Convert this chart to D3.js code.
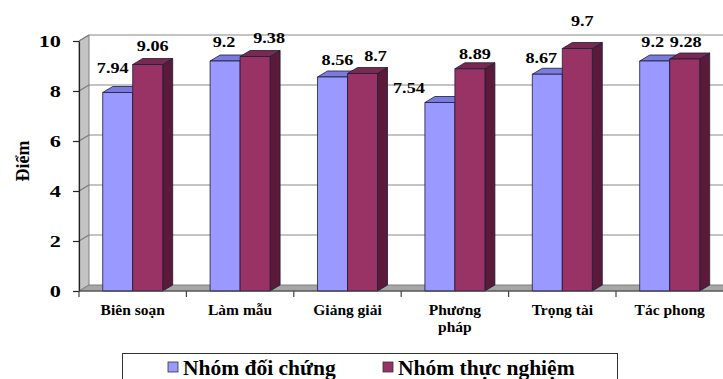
<!DOCTYPE html>
<html>
<head>
<meta charset="utf-8">
<script src="https://cdn.jsdelivr.net/npm/d3@7"></script>
<style>
  html, body { margin: 0; padding: 0; background: #fff; }
  svg { display: block; }
  text { font-family: "Liberation Serif", "Times New Roman", serif; font-weight: bold; fill: #000; }
</style>
</head>
<body>
<svg id="chart" width="723" height="379"></svg>
<script>
// Scores by teaching skill for the two groups
const categories = ["Biên soạn", "Làm mẫu", "Giảng giải", "Phương pháp", "Trọng tài", "Tác phong"];
const controlScores = [7.94, 9.2, 8.56, 7.54, 8.67, 9.2];
const experimentScores = [9.06, 9.38, 8.7, 8.89, 9.7, 9.28];
const seriesNames = ["Nhóm đối chứng", "Nhóm thực nghiệm"];
const yTickValues = [0, 2, 4, 6, 8, 10];
const yTitle = "Điểm";

const seriesValues = [controlScores, experimentScores];
const palette = [
  { front: "#9999ff", top: "#7b7bdc", side: "#6a6ac4" },
  { front: "#993366", top: "#7a2850", side: "#5c1a3a" }
];

// Hand-placed adjustments for value labels that were dragged off their default spot
// [series][category] -> [dx, dy]
const labelNudge = [
  [[-10, -7], [-6, -1], [0, 1], [-36, 3], [-11, 2], [-7, -1]],
  [[0, -1], [9, -1], [8, 0], [0, 3], [0, -10], [-4, 1]]
];

const svg = d3.select("#chart");

// Oblique depth offset of the 3D box
const depthX = 10, depthY = -6;
const left = 79, right = 723.4, plotEdge = 735;

const x = d3.scaleBand().domain(categories).range([left, right]).padding(0);
const y = d3.scaleLinear().domain([0, 10]).range([291, 41]);
const barW = 30;
const inner = d3.scaleBand().domain(d3.range(seriesNames.length)).range([0, barW * seriesNames.length]);

const poly = pts => pts.map(p => p.join(",")).join(" ");

// Walls and floor
const y0 = y(0), yTop = y(10);
svg.append("polygon")
  .attr("points", poly([[left + depthX, yTop + depthY], [plotEdge, yTop + depthY], [plotEdge, y0 + depthY], [left + depthX, y0 + depthY]]))
  .attr("fill", "#fff");
svg.append("polygon")
  .attr("points", poly([[left, y0], [left, yTop], [left + depthX, yTop + depthY], [left + depthX, y0 + depthY]]))
  .attr("fill", "#c4c4c4").attr("stroke", "#808080").attr("stroke-width", 1);
svg.append("polygon")
  .attr("points", poly([[left, y0], [plotEdge, y0], [plotEdge + depthX, y0 + depthY], [left + depthX, y0 + depthY]]))
  .attr("fill", "#a6a6a6").attr("stroke", "#808080").attr("stroke-width", 1);

// Gridlines on the back wall and the side wall
const grid = svg.append("g").attr("stroke", "#8a8a8a").attr("stroke-width", 1.2).attr("fill", "none");
yTickValues.filter(v => v > 0).forEach(v => {
  grid.append("line")
    .attr("x1", left + depthX).attr("x2", plotEdge)
    .attr("y1", y(v) + depthY).attr("y2", y(v) + depthY);
  grid.append("line")
    .attr("x1", left).attr("x2", left + depthX)
    .attr("y1", y(v)).attr("y2", y(v) + depthY)
    .attr("stroke", "#7a7a7a");
});

// Bars as 3D boxes
const bars = svg.append("g");
categories.forEach((cat, ci) => {
  const gx = x(cat) + x.bandwidth() / 2 - barW * seriesNames.length / 2;
  seriesValues.forEach((vals, si) => {
    const v = vals[ci];
    const x0 = gx + inner(si), x1 = x0 + barW;
    const yt = y(v), yb = y(0);
    const c = palette[si];
    const g = bars.append("g").attr("stroke", "#1c1c3a").attr("stroke-width", 0.8).attr("stroke-linejoin", "round");
    g.append("polygon")
      .attr("points", poly([[x1, yb], [x1, yt], [x1 + depthX, yt + depthY], [x1 + depthX, yb + depthY]]))
      .attr("fill", c.side);
    g.append("polygon")
      .attr("points", poly([[x0, yt], [x1, yt], [x1 + depthX, yt + depthY], [x0 + depthX, yt + depthY]]))
      .attr("fill", c.top);
    g.append("rect")
      .attr("x", x0).attr("y", yt).attr("width", barW).attr("height", yb - yt)
      .attr("fill", c.front);
  });
});

// Value labels above each bar
const labels = svg.append("g");
categories.forEach((cat, ci) => {
  const gx = x(cat) + x.bandwidth() / 2 - barW * seriesNames.length / 2;
  seriesValues.forEach((vals, si) => {
    const v = vals[ci];
    const [ndx, ndy] = labelNudge[si][ci];
    const cx = gx + inner(si) + barW / 2 + depthX / 2 + ndx;
    const by = y(v) + depthY - 7 + ndy;
    labels.append("text")
      .attr("transform", `translate(${cx},${by}) scale(1.3,1)`)
      .attr("text-anchor", "middle")
      .attr("font-size", 14)
      .text(String(v));
  });
});

// Y axis
const yAxis = d3.axisLeft(y).tickValues(yTickValues).tickSize(6).tickSizeOuter(0).tickFormat(d3.format("d"));
const yg = svg.append("g").attr("transform", `translate(${left},0)`).call(yAxis);
yg.select(".domain").attr("stroke", "#222").attr("stroke-width", 1.2);
yg.selectAll(".tick line").attr("stroke", "#222").attr("stroke-width", 1.2);
yg.selectAll(".tick text")
  .attr("x", null).attr("dy", "0.35em")
  .attr("transform", "translate(-18,0) scale(1.35,1)")
  .attr("font-size", 16.5)
  .attr("text-anchor", "end");

// X axis: category labels, with ticks at band boundaries
const xAxis = d3.axisBottom(x).tickSize(0).tickPadding(0);
const xg = svg.append("g").attr("transform", `translate(0,${y0})`).call(xAxis);
xg.select(".domain").attr("stroke", "#444").attr("stroke-width", 1.2).attr("d", `M${left},0H${plotEdge}`);
xg.selectAll(".tick text")
  .attr("font-size", 15.5)
  .attr("dy", null)
  .attr("y", 24)
  .each(function (d) {
    const t = d3.select(this);
    const words = d.split(" ");
    if (this.getComputedTextLength() > 82 && words.length > 1) {
      t.text(null);
      words.forEach((w, i) => {
        t.append("tspan").attr("x", 0).attr("y", 24 + i * 17).text(w);
      });
    }
  });
const boundaries = categories.map(c => x(c)).concat([x(categories[categories.length - 1]) + x.bandwidth()]);
xg.selectAll(".bound")
  .data(boundaries.filter(b => b < 723))
  .join("line")
  .attr("class", "bound")
  .attr("x1", d => d).attr("x2", d => d)
  .attr("y1", 0).attr("y2", 6)
  .attr("stroke", "#444").attr("stroke-width", 1.2);

// Y axis title
svg.append("text")
  .attr("transform", "translate(29,161) rotate(-90)")
  .attr("text-anchor", "middle")
  .attr("font-size", 18)
  .text(yTitle);

// Legend (the box runs past the bottom edge of the canvas)
const legend = svg.append("g");
legend.append("rect")
  .attr("x", 122.5).attr("y", 353.5).attr("width", 495).attr("height", 40)
  .attr("fill", "#fff").attr("stroke", "#333").attr("stroke-width", 1);
const legendX = [168, 383];
seriesNames.forEach((name, i) => {
  legend.append("rect")
    .attr("x", legendX[i]).attr("y", 362).attr("width", 10).attr("height", 10)
    .attr("fill", palette[i].front).attr("stroke", "#333").attr("stroke-width", 0.8);
  legend.append("text")
    .attr("x", legendX[i] + 15).attr("y", 375)
    .attr("font-size", 21.5)
    .text(name);
});
</script>
</body>
</html>
